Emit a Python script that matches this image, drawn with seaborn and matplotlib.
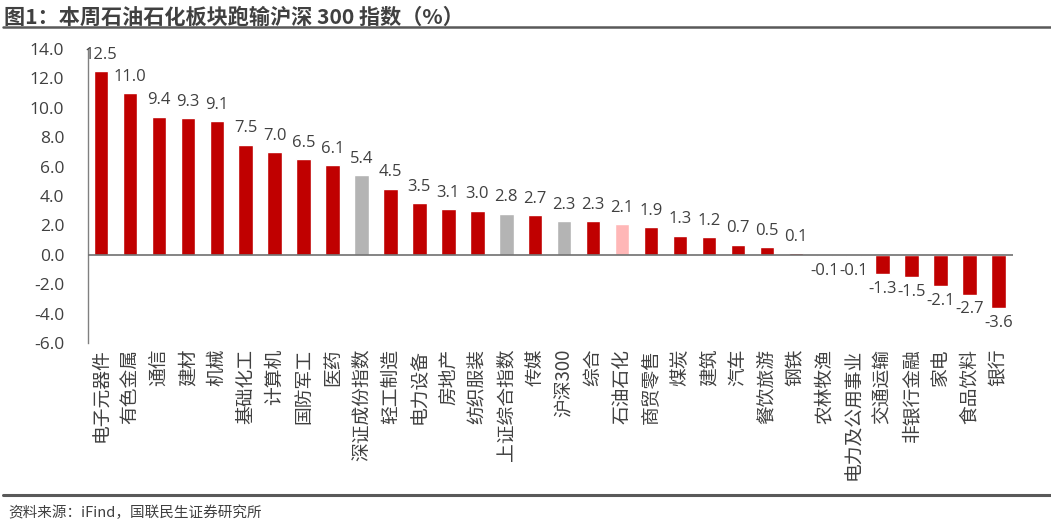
import numpy as np
import pandas as pd
import matplotlib
matplotlib.use("Agg")
import matplotlib.pyplot as plt
import seaborn as sns

# data
categories = ["电子元器件", "有色金属", "通信", "建材", "机械", "基础化工", "计算机", "国防军工",
              "医药", "深证成份指数", "轻工制造", "电力设备", "房地产", "纺织服装", "上证综合指数",
              "传媒", "沪深300", "综合", "石油石化", "商贸零售", "煤炭", "建筑", "汽车", "餐饮旅游",
              "钢铁", "农林牧渔", "电力及公用事业", "交通运输", "非银行金融", "家电", "食品饮料", "银行"]
values = [12.5, 11.0, 9.4, 9.3, 9.1, 7.5, 7.0, 6.5, 6.1, 5.4, 4.5, 3.5, 3.1, 3.0, 2.8,
          2.7, 2.3, 2.3, 2.1, 1.9, 1.3, 1.2, 0.7, 0.5, 0.1, -0.1, -0.1, -1.3, -1.5, -2.1, -2.7, -3.6]
index_names = ["深证成份指数", "上证综合指数", "沪深300"]
highlight = "石油石化"
yticks = [-6, -4, -2, 0, 2, 4, 6, 8, 10, 12, 14]

RED = "#C00000"
GRAY = "#B4B4B4"
PINK = "#FFB7B7"
TXT = "#404040"
NUMFONT = ['Open Sans', 'Noto Sans CJK SC', 'DejaVu Sans']

colors = []
for c in categories:
    if c in index_names:
        colors.append(GRAY)
    elif c == highlight:
        colors.append(PINK)
    else:
        colors.append(RED)

df = pd.DataFrame({"cat": categories, "val": values})

sns.set_theme(style="white")
plt.rcParams['font.family'] = ['Noto Sans CJK SC', 'DejaVu Sans']
plt.rcParams['axes.unicode_minus'] = False

fig = plt.figure(figsize=(10.51, 5.31), dpi=100)
ax = fig.add_axes([0.0837, 0.354, 0.880, 0.5536])

sns.barplot(data=df, x="cat", y="val", hue="cat", palette=colors, legend=False,
            width=0.5, ax=ax, saturation=1)

ax.set_xlim(-0.45, len(categories) - 0.5)
ax.set_ylim(-6, 14)
ax.set_yticks(yticks)
ax.set_yticklabels([f"{t:.1f}" for t in yticks], fontsize=12.5, color=TXT, family=NUMFONT)
ax.tick_params(axis='y', length=0, pad=17)
ax.tick_params(axis='x', length=0, pad=4)
ax.set_xticks(range(len(categories)))
ax.set_xticklabels(categories, rotation=90, fontsize=13.5, color=TXT, va='top')
ax.set_xlabel("")
ax.set_ylabel("")

for s in ["top", "right", "bottom"]:
    ax.spines[s].set_visible(False)
ax.spines["left"].set_color("#808080")
ax.spines["left"].set_linewidth(1)
ax.axhline(0, color="#707070", lw=1.2, zorder=3)

# value labels
for i, v in enumerate(values):
    if v >= 0:
        ax.annotate(f"{v:.1f}", (i, v), xytext=(0, 6), textcoords="offset points",
                    ha="center", va="bottom", fontsize=12, color=TXT, family=NUMFONT)
    else:
        ax.annotate(f"{v:.1f}", (i, v), xytext=(0, -5), textcoords="offset points",
                    ha="center", va="top", fontsize=12, color=TXT, family=NUMFONT)

# title and rules
fig.text(0.004, 0.968, "图1：本周石油石化板块跑输沪深 300 指数（%）", fontsize=15.2,
         fontweight="bold", color=TXT, ha="left", va="center")
fig.add_artist(plt.Line2D([0.003, 1.0], [0.949, 0.949], color="#595959", lw=1.8))
fig.add_artist(plt.Line2D([0.003, 1.0], [0.068, 0.068], color="#595959", lw=2.2))
fig.text(0.008, 0.035, "资料来源：iFind，国联民生证券研究所", fontsize=10.5, color=TXT,
         ha="left", va="center")

fig.savefig("out.png", dpi=100)
